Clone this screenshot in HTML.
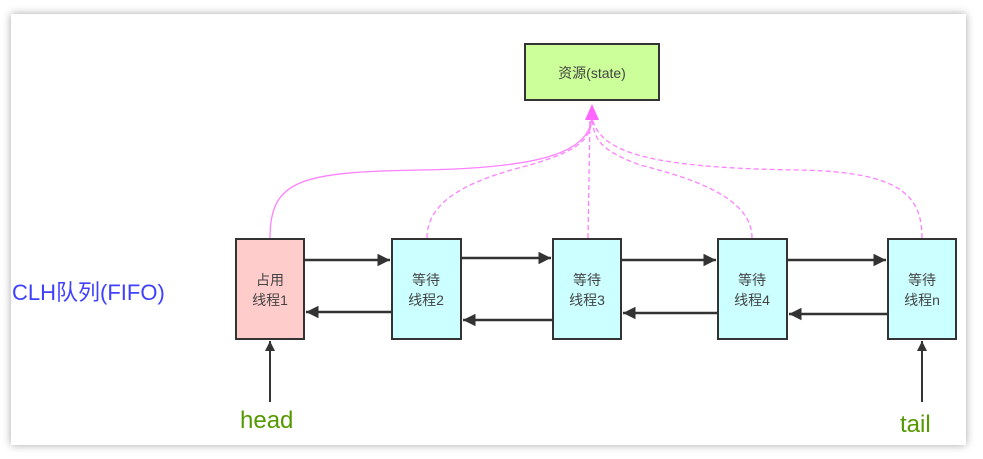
<!DOCTYPE html>
<html><head><meta charset="utf-8"><style>
html,body{margin:0;padding:0;background:#fff;width:983px;height:459px;overflow:hidden}
.p{position:absolute;left:11px;top:14px;width:955px;height:431px;background:#fff;box-shadow:0 0 8px rgba(0,0,0,0.35)}
svg{position:absolute;left:0;top:0}
text{font-family:"Liberation Sans","Noto Sans CJK SC",sans-serif}
</style></head><body>
<div class="p"></div>
<svg width="983" height="459" viewBox="0 0 983 459">
<defs>
<marker id="a" viewBox="0 0 10 10" refX="10" refY="5" markerWidth="5" markerHeight="5" orient="auto"><path d="M0,0L10,5L0,10z" fill="#333"/></marker>
</defs>
<!-- pink links -->
<g fill="none" stroke="#ff80ff" stroke-width="1.3">
<path d="M270,238 C270,180 300,172 420,170 C550,168 588,150 592,118"/>
<g stroke-dasharray="5,3">
<path d="M427,238 C427,200 470,180 530,165 C580,150 590,140 592,118"/>
<path d="M588,238 L590,118"/>
<path d="M752,238 C752,200 700,180 640,165 C600,150 594,140 592,118"/>
<path d="M922,238 C922,195 900,172 800,170 C640,168 600,150 592,118"/>
</g>
</g>
<path d="M592,104 L585,120 L599,120 z" fill="#ff66ff"/>
<!-- resource -->
<rect x="525" y="44" width="134" height="56" fill="#ccff99" stroke="#333" stroke-width="2"/>
<text x="592" y="78" font-size="14" fill="#444" text-anchor="middle">资源(state)</text>
<!-- boxes -->
<g stroke="#333" stroke-width="2">
<rect x="236" y="239" width="68" height="100" fill="#ffcccc"/>
<rect x="392" y="239" width="69" height="100" fill="#ccffff"/>
<rect x="553" y="239" width="68" height="100" fill="#ccffff"/>
<rect x="718" y="239" width="69" height="100" fill="#ccffff"/>
<rect x="888" y="239" width="68" height="100" fill="#ccffff"/>
</g>
<g font-size="14" fill="#444" text-anchor="middle">
<text x="270" y="285">占用</text><text x="270" y="305">线程1</text>
<text x="426" y="285">等待</text><text x="426" y="305">线程2</text>
<text x="587" y="285">等待</text><text x="587" y="305">线程3</text>
<text x="752" y="285">等待</text><text x="752" y="305">线程4</text>
<text x="922" y="285">等待</text><text x="922" y="305">线程n</text>
</g>
<!-- arrows -->
<g stroke="#333" stroke-width="2.5" marker-end="url(#a)">
<line x1="304" y1="260" x2="390" y2="260"/>
<line x1="461" y1="258" x2="551" y2="258"/>
<line x1="621" y1="260" x2="716" y2="260"/>
<line x1="787" y1="260" x2="886" y2="260"/>
<line x1="392" y1="312" x2="306" y2="312"/>
<line x1="553" y1="320" x2="463" y2="320"/>
<line x1="718" y1="313" x2="623" y2="313"/>
<line x1="888" y1="314" x2="789" y2="314"/>
</g>
<g stroke="#333" stroke-width="2" marker-end="url(#a)">
<line x1="270" y1="402" x2="270" y2="341"/>
<line x1="922" y1="402" x2="922" y2="341"/>
</g>
<text x="12" y="300" font-size="22" fill="#4040ff">CLH队列(FIFO)</text>
<text x="240" y="428" font-size="24" fill="#559900">head</text>
<text x="900" y="432" font-size="24" fill="#559900">tail</text>
</svg>
</body></html>
